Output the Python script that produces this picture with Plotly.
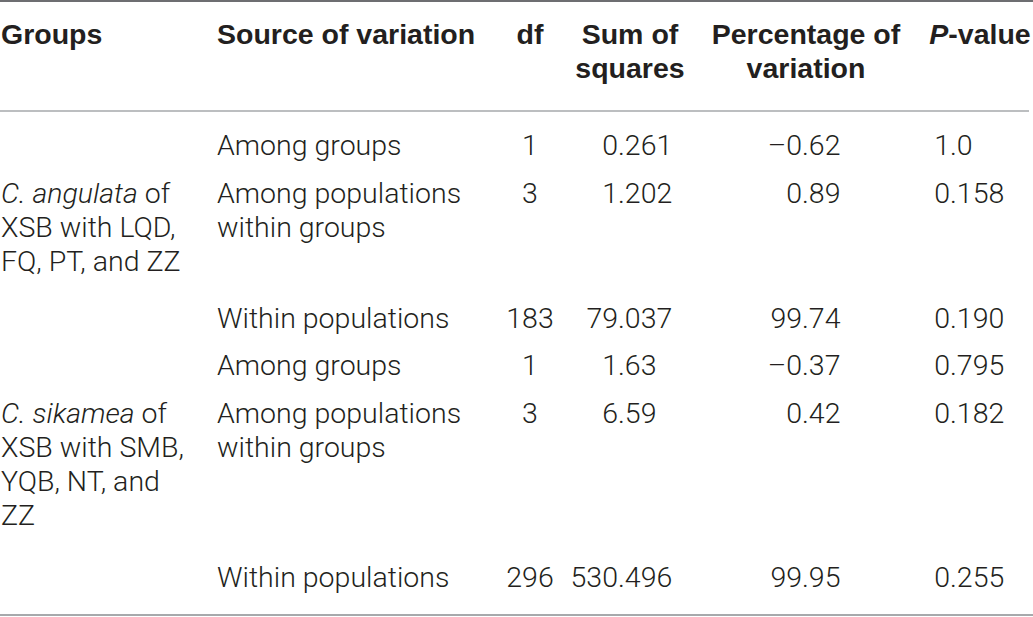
import plotly.graph_objects as go

WIDTH = 1033
HEIGHT = 617

HEAD_FONT = "Liberation Sans"
BODY_FONT = "Roboto"
FONT_SIZE = 28.5
TEXT_COLOR = "#231f20"

# table content
header_top = ["Groups", "Source of variation", "df", "Sum of", "Percentage of", "<i>P</i>-value"]
header_bottom = ["", "", "", "squares", "variation", ""]

group_labels = [
    ["<i>C. angulata</i> of", "XSB with LQD,", "FQ, PT, and ZZ"],
    ["<i>C. sikamea</i> of", "XSB with SMB,", "YQB, NT, and", "ZZ"],
]
group_rows = [1, 4]

sources = [
    ["Among groups"],
    ["Among populations", "within groups"],
    ["Within populations"],
    ["Among groups"],
    ["Among populations", "within groups"],
    ["Within populations"],
]
df_values = [1, 3, 183, 1, 3, 296]
sum_of_squares = ["0.261", "1.202", "79.037", "1.63", "6.59", "530.496"]
percentage = [-0.62, 0.89, 99.74, -0.37, 0.42, 99.95]
p_values = ["1.0", "0.158", "0.190", "0.795", "0.182", "0.255"]

# layout in pixels (y measured from the top)
HEADER_Y = [37, 71]
ROW_Y = [148, 196, 321, 368, 416, 580]
LINE_GAP = 34
X_GROUP = 1
X_SOURCE = 217
X_DF = 530
X_SS_DOT = 618
X_PCT_DOT = 802
X_P_DOT = 950
X_HEAD_SS = 630
X_HEAD_PCT = 806
X_HEAD_P = 980


def split_at_dot(s: str):
    i = s.index('.')
    return s[:i], s[i:]


def fmt_pct(v: float) -> str:
    txt = "{:.2f}".format(abs(v))
    return ("\u2013" + txt) if v < 0 else txt


def add_text(fig, xs, ys, texts, position, bold=False):
    font = dict(family=HEAD_FONT, size=FONT_SIZE, color=TEXT_COLOR, weight='bold') if bold else \
        dict(family=BODY_FONT, size=FONT_SIZE, color=TEXT_COLOR, weight=300)
    fig.add_trace(go.Scatter(
        x=xs, y=ys, text=texts, mode='text',
        textposition=position, textfont=font,
        hoverinfo='skip', showlegend=False))


def add_numbers_on_dot(fig, x_dot, values):
    left, right = zip(*[split_at_dot(v) for v in values])
    add_text(fig, [x_dot] * len(values), ROW_Y, list(left), 'middle left')
    add_text(fig, [x_dot] * len(values), ROW_Y, list(right), 'middle right')


fig = go.Figure()

# header
add_text(fig, [X_GROUP, X_SOURCE], [HEADER_Y[0]] * 2, header_top[:2], 'middle right', bold=True)
add_text(fig, [X_DF, X_HEAD_SS, X_HEAD_PCT, X_HEAD_P], [HEADER_Y[0]] * 4, header_top[2:],
         'middle center', bold=True)
add_text(fig, [X_HEAD_SS, X_HEAD_PCT], [HEADER_Y[1]] * 2, header_bottom[3:5], 'middle center', bold=True)

# group labels
gx, gy, gt = [], [], []
for lines, row in zip(group_labels, group_rows):
    for k, line in enumerate(lines):
        gx.append(X_GROUP)
        gy.append(ROW_Y[row] + k * LINE_GAP)
        gt.append(line)
add_text(fig, gx, gy, gt, 'middle right')

# source of variation
sx, sy, st = [], [], []
for lines, y0 in zip(sources, ROW_Y):
    for k, line in enumerate(lines):
        sx.append(X_SOURCE)
        sy.append(y0 + k * LINE_GAP)
        st.append(line)
add_text(fig, sx, sy, st, 'middle right')

# numeric columns
add_text(fig, [X_DF] * len(df_values), ROW_Y, [str(v) for v in df_values], 'middle center')
add_numbers_on_dot(fig, X_SS_DOT, sum_of_squares)
add_numbers_on_dot(fig, X_PCT_DOT, [fmt_pct(v) for v in percentage])
add_numbers_on_dot(fig, X_P_DOT, p_values)

# rules
fig.add_shape(type='line', x0=0, x1=WIDTH, y0=1, y1=1, line=dict(color="#6d6e71", width=2))
fig.add_shape(type='line', x0=0, x1=1029, y0=111, y1=111, line=dict(color="#bcbec0", width=2))
fig.add_shape(type='line', x0=0, x1=WIDTH, y0=615, y1=615, line=dict(color="#a7a9ac", width=2))

fig.update_layout(width=WIDTH, height=HEIGHT,
                  margin=dict(l=0, r=0, t=0, b=0),
                  paper_bgcolor="white", plot_bgcolor="white")
fig.update_xaxes(range=[0, WIDTH], visible=False, fixedrange=True)
fig.update_yaxes(range=[HEIGHT, 0], visible=False, fixedrange=True)

# page body has an 8px default margin; drop it so the table sits flush
fig.write_html("out.html", config=dict(displayModeBar=False),
               post_script="document.body.style.margin='0';document.body.style.overflow='hidden';")
